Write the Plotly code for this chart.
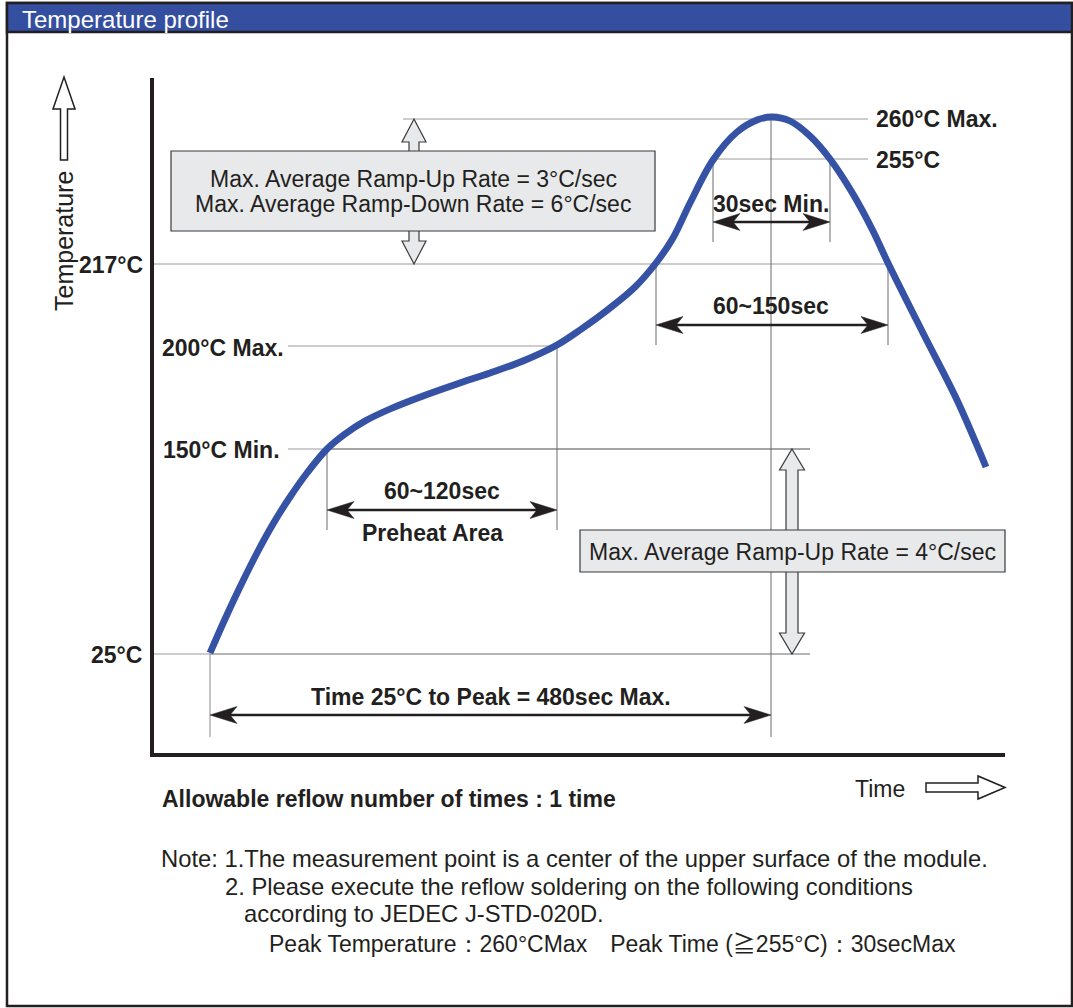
import plotly.graph_objects as go

W, H = 1073, 1008
FONT = "Liberation Sans, Arial, Helvetica, sans-serif"
INK = "#231F20"
BLUE = "#3652A5"

# ---------------- data (schematic canvas units) ----------------
profile_x = [210, 225, 240, 257, 273, 290, 307, 327, 345, 365, 390, 423, 457, 490, 523,
             557, 580, 610, 635, 656, 673, 690, 713, 737, 757, 772, 790, 810, 830, 853,
             873, 888, 923, 957, 986]
profile_y = [653, 619, 587, 553, 524, 497, 473, 449, 434, 421, 409, 396, 384, 373, 361,
             345, 330, 308, 287, 263, 238, 203, 160, 132, 120, 117, 121, 136, 159, 194,
             231, 263, 333, 400, 467]

# temperature levels (label, schematic height)
level_names = ["25", "150", "200", "217", "255", "260"]
level_labels = ["25°C", "150°C Min.", "200°C Max.", "217°C", "255°C", "260°C Max."]
level_pos = [654, 449, 346, 264, 159, 119]
LV = dict(zip(level_names, level_pos))

# time markers
time_names = ["start", "pre_start", "pre_end", "up217", "up255", "peak", "down255", "down217"]
time_pos = [210, 327, 557, 656, 713, 771, 830, 888]
T = dict(zip(time_names, time_pos))

span_labels = ["30sec Min.", "60~150sec", "60~120sec", "Time 25°C to Peak = 480sec Max."]

box1_lines = ["Max. Average Ramp-Up Rate = 3°C/sec", "Max. Average Ramp-Down Rate = 6°C/sec"]
box2_text = "Max. Average Ramp-Up Rate = 4°C/sec"

note_lines = [
    "Note: 1.The measurement point is a center of the upper surface of the module.",
    "2. Please execute the reflow soldering on the following conditions",
    "according to JEDEC J-STD-020D.",
    "Peak Temperature：260°CMax　Peak Time (<span style=\"font-family:'Noto Sans CJK JP'\">≧</span>255°C)：30secMax",
]

# ---------------- figure ----------------
fig = go.Figure()
fig.add_trace(go.Scatter(x=profile_x, y=profile_y, mode="lines",
                         line=dict(color=BLUE, width=6.8, shape="spline", smoothing=1.0),
                         hoverinfo="skip"))

shapes = []
ann = []

def line(x0, y0, x1, y1, color="#9A9A9A", width=1, layer="below"):
    shapes.append(dict(type="line", xref="x", yref="y", x0=x0, y0=y0, x1=x1, y1=y1,
                       line=dict(color=color, width=width), layer=layer))

def path(d, fill, color=INK, width=1.2, layer="above"):
    shapes.append(dict(type="path", xref="x", yref="y", path=d, fillcolor=fill,
                       line=dict(color=color, width=width), layer=layer))

def rect(x0, y0, x1, y1, fill, color, width, layer="above"):
    shapes.append(dict(type="rect", xref="x", yref="y", x0=x0, y0=y0, x1=x1, y1=y1,
                       fillcolor=fill, line=dict(color=color, width=width), layer=layer))

def text(x, y, s, size=23, bold=False, xanchor="center", color=INK, angle=0):
    ann.append(dict(x=x, y=y, xref="x", yref="y", text=s, showarrow=False,
                    xanchor=xanchor, yanchor="middle", textangle=angle,
                    font=dict(family=FONT, size=size, color=color,
                              weight="bold" if bold else "normal")))

# outer frame and header
rect(7, 3, 1072, 1006, "rgba(0,0,0,0)", INK, 2.5)
rect(7, 3, 1072, 32, "#344EA0", INK, 2.5)
text(20, 19, "Temperature profile", size=24, xanchor="left", color="white")

# guide lines
line(403, LV["260"], 868, LV["260"])
line(T["up255"], LV["255"], 868, LV["255"])
line(153, LV["217"], T["down217"], LV["217"])
line(288, LV["200"], T["pre_end"], LV["200"])
line(288, LV["150"], T["pre_start"], LV["150"])
line(T["pre_start"], LV["150"], 810, LV["150"], color="#4A4A4A")
line(153, LV["25"], T["start"], LV["25"])
line(T["start"], LV["25"], 810, LV["25"], color="#6A6A6A")

line(T["start"], LV["25"], T["start"], 737, color="#8A8A8A")
line(T["peak"], LV["260"], T["peak"], 737, color="#6A6A6A")
line(T["pre_start"], LV["150"], T["pre_start"], 530, color="#6A6A6A")
line(T["pre_end"], LV["200"], T["pre_end"], 530, color="#6A6A6A")
line(T["up217"], LV["217"], T["up217"], 345, color="#6A6A6A")
line(T["down217"], LV["217"], T["down217"], 345, color="#6A6A6A")
line(T["up255"], LV["255"], T["up255"], 242, color="#6A6A6A")
line(T["down255"], LV["255"], T["down255"], 242, color="#6A6A6A")

# chart axes
line(152, 78, 152, 757, color=INK, width=4, layer="above")
line(150, 755, 1005, 755, color=INK, width=4, layer="above")

# dimension arrows
def head(tx, ty, d):
    L, Wd, N = 27, 8.5, 20
    return (f"M{tx},{ty} L{tx - d*L},{ty - Wd} L{tx - d*N},{ty} "
            f"L{tx - d*L},{ty + Wd} Z")

def dim(x0, x1, y):
    line(x0 + 12, y, x1 - 12, y, color=INK, width=2.6, layer="above")
    path(head(x0, y, -1), INK, INK, 0.5)
    path(head(x1, y, 1), INK, INK, 0.5)

dim(T["up255"], T["down255"], 222)
dim(T["up217"], T["down217"], 325)
dim(T["pre_start"], T["pre_end"], 510)
dim(T["start"], T["peak"], 715)

text(771, 204, span_labels[0], bold=True)
text(771, 306, span_labels[1], bold=True)
text(442, 491, span_labels[2], bold=True)
text(432, 533, "Preheat Area", bold=True)
text(491, 697, span_labels[3], bold=True)

# level labels
text(145, LV["217"] + 1, level_labels[3], bold=True, xanchor="right")
text(144, LV["25"] + 1, level_labels[0], bold=True, xanchor="right")
text(160, LV["200"] + 2, level_labels[2], bold=True, xanchor="left")
text(161, LV["150"] + 1, level_labels[1], bold=True, xanchor="left")
text(874, LV["260"], level_labels[5], bold=True, xanchor="left")
text(874, LV["255"] + 1, level_labels[4], bold=True, xanchor="left")

# block double arrows with boxes
def vdouble(cx, yt, yb, hwh, hws, hh):
    return (f"M{cx},{yt} L{cx+hwh},{yt+hh} L{cx+hws},{yt+hh} L{cx+hws},{yb-hh} "
            f"L{cx+hwh},{yb-hh} L{cx},{yb} L{cx-hwh},{yb-hh} L{cx-hws},{yb-hh} "
            f"L{cx-hws},{yt+hh} L{cx-hwh},{yt+hh} Z")

path(vdouble(414, LV["260"], LV["217"], 12, 5, 23), "#E8E9EB", "#3A3A3A", 1.2)
rect(171, 151, 655, 231, "#E8E9EB", "#3A3A3A", 1.2)
text(413, 179, box1_lines[0], size=23)
text(413, 204, box1_lines[1], size=23)

path(vdouble(792, LV["150"], LV["25"], 12.5, 6, 21), "#E8E9EB", "#3A3A3A", 1.2)
rect(580, 530, 1005, 572, "#E8E9EB", "#3A3A3A", 1.2)
text(792, 552, box2_text, size=23)

# axis titles with hollow arrows
path("M64,77 L75,109 L67.5,109 L67.5,160 L60.5,160 L60.5,109 L53,109 Z", "white", INK, 1.5)
text(64, 241, "Temperature", size=25, angle=-90)
path("M1005,787.5 L978,776 L978,783 L926,783 L926,792 L978,792 L978,799 Z", "white", INK, 1.5)
text(853, 789, "Time", size=23, xanchor="left")

text(160, 799, "Allowable reflow number of times : 1 time", bold=True, xanchor="left")

# notes
text(159, 858, note_lines[0], size=23.8, xanchor="left")
text(223, 886, note_lines[1], size=23.8, xanchor="left")
text(242, 913, note_lines[2], size=23.8, xanchor="left")
text(267, 942, note_lines[3], size=23.0, xanchor="left")

fig.update_layout(
    width=W, height=H, margin=dict(l=0, r=0, t=0, b=0),
    paper_bgcolor="white", plot_bgcolor="white", showlegend=False,
    xaxis=dict(range=[0, W], visible=False, fixedrange=True, domain=[0, 1]),
    yaxis=dict(range=[H, 0], visible=False, fixedrange=True, domain=[0, 1]),
    shapes=shapes, annotations=ann,
)

fig.write_html("out.html", config={"displayModeBar": False},
               post_script="document.body.style.margin='0';document.body.style.overflow='hidden';")
